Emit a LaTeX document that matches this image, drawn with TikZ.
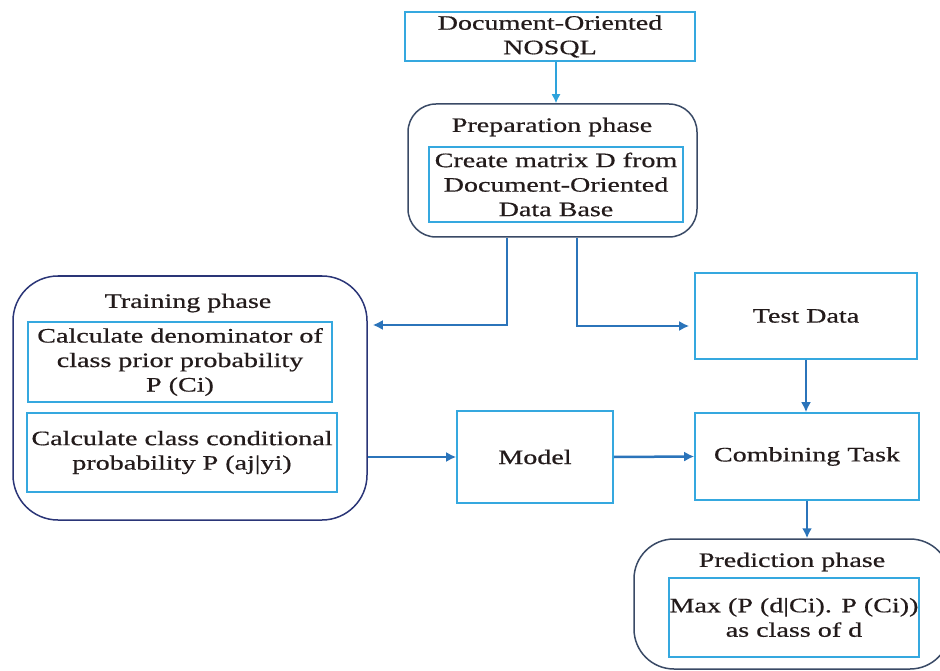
\documentclass[tikz,border=0pt]{standalone}
\usepackage{fontspec}
\setmainfont{Liberation Serif}[FakeStretch=1.37,FakeBold=0.6]
\usetikzlibrary{arrows.meta}
\definecolor{boxblue}{HTML}{35A8DF}
\definecolor{arrowblue}{HTML}{2B74BA}
\definecolor{lightarrow}{HTML}{2EA3DC}
\definecolor{phaseedge}{HTML}{3A4A66}
\definecolor{trainedge}{HTML}{2A3577}
\definecolor{txt}{HTML}{231B1B}
\begin{document}
\begin{tikzpicture}[x=1pt,y=-1pt,
  every node/.style={text=txt, font=\fontsize{20.5}{24.5}\selectfont, align=center, inner sep=0pt},
  inbox/.style={draw=boxblue, line width=1.6pt},
  phasebox/.style={draw=phaseedge, line width=1.5pt, rounded corners=28pt},
  arr/.style={draw=arrowblue, line width=2.5pt, -{Latex[length=10pt,width=10pt]}},
  arrlight/.style={draw=lightarrow, line width=1.5pt, -{Latex[length=9pt,width=9pt]}}]
\useasboundingbox[fill=white] (0,0) rectangle (940,671);

% top source
\node[inbox, minimum width=290pt, minimum height=49pt] (nosql) at (550,36.5) {Document-Oriented\\NOSQL};

% preparation phase
\node[phasebox, minimum width=289pt, minimum height=133pt] (prepbox) at (552.5,170.5) {};
\node (preptitle) at (552,127) {Preparation phase};
\node[inbox, minimum width=254pt, minimum height=75pt] (prepinner) at (556,184.5) {Create matrix D from\\Document-Oriented\\Data Base};

% training phase
\node[phasebox, draw=trainedge, rounded corners=45pt, minimum width=354pt, minimum height=244pt] (trainbox) at (190,398) {};
\node (traintitle) at (188,303) {Training phase};
\node[inbox, minimum width=304pt, minimum height=80pt] (train1) at (180,362) {Calculate denominator of\\class prior probability\\P (Ci)};
\node[inbox, minimum width=310pt, minimum height=79pt] (train2) at (182,452.5) {Calculate class conditional\\probability P (aj|yi)};

% right column
\node[inbox, minimum width=222pt, minimum height=86pt] (test) at (806,316) {Test Data};
\node[inbox, minimum width=156pt, minimum height=92pt] (model) at (535,457) {Model};
\node[inbox, minimum width=224pt, minimum height=87pt] (comb) at (807,456.5) {Combining Task};

% prediction phase
\node[phasebox, rounded corners=40pt, minimum width=316pt, minimum height=130pt] (predbox) at (792,604) {};
\node (predtitle) at (792,562) {Prediction phase};
\node[inbox, minimum width=250pt, minimum height=79pt] (predinner) at (794,617.5) {Max (P (d|Ci). P (Ci))\\as class of d};

% connectors
\draw[arrlight] (nosql.south -| prepinner.north) -- (prepbox.north -| prepinner.north);
\coordinate (tl) at (507,325);
\coordinate (tr) at (577,326);
\draw[arr, shorten >=5pt] (prepbox.south -| tl) -- (tl) -- (trainbox.east |- tl);
\draw[arr, shorten >=5pt] (prepbox.south -| tr) -- (tr) -- (test.west |- tr);
\draw[arr] (test.south) -- (test.south |- comb.north);
\draw[arr] (trainbox.east |- model.west) -- (model.west);
\draw[arr] (model.east) -- (comb.west);
\draw[arr] (comb.south) -- (comb.south |- predbox.north);
\end{tikzpicture}
\end{document}
